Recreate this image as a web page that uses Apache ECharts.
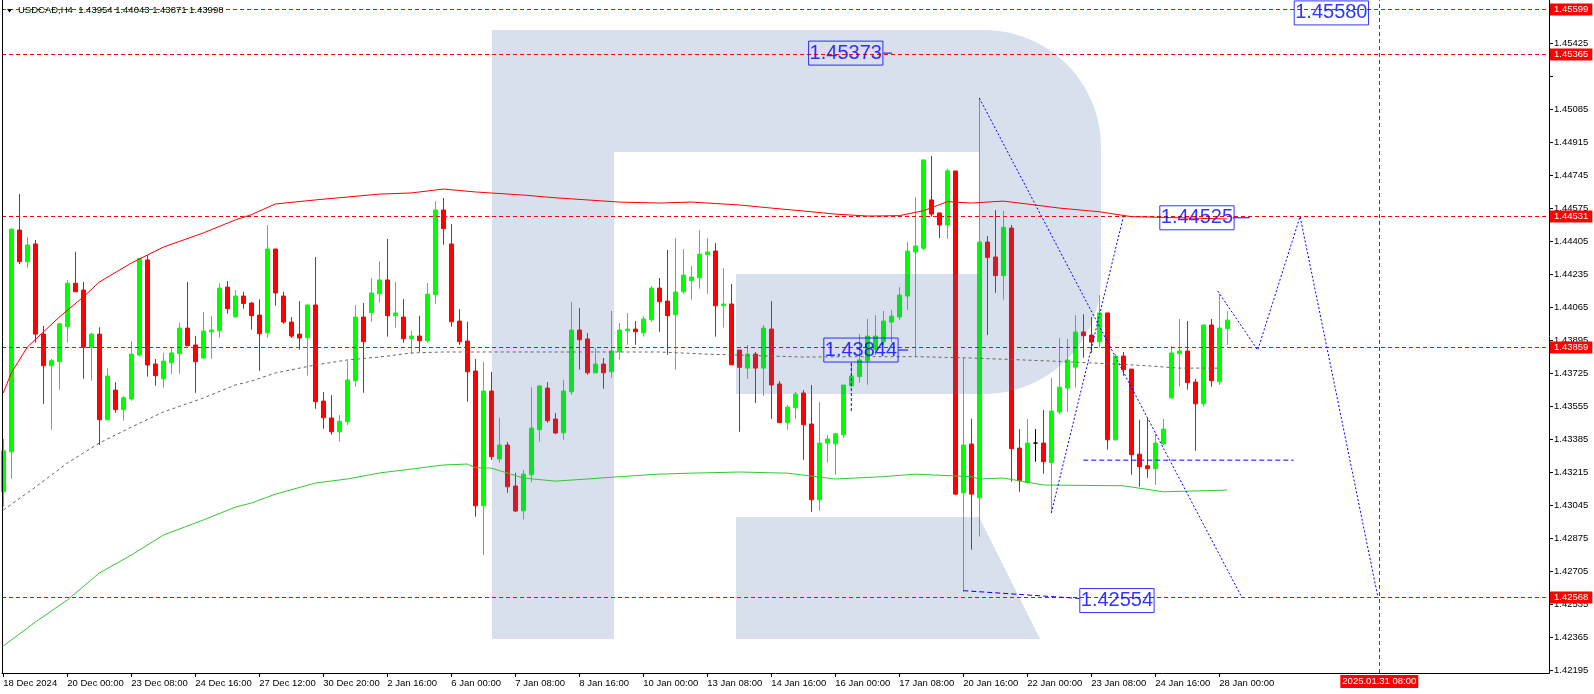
<!DOCTYPE html>
<html><head><meta charset="utf-8">
<script src="https://cdn.jsdelivr.net/npm/echarts@6/dist/echarts.min.js"></script>
<style>html,body{margin:0;padding:0;background:#fff}#c{width:1594px;height:694px}</style>
</head><body><div id="c"></div>
<script>
const FONT = 'Liberation Sans';
// ---- data: H4 candles, index 0 = 18 Dec 2024 16:00 ----
const opens = [1.43114,1.43320,1.44462,1.44299,1.44390,1.43926,1.43763,1.43784,1.43964,1.44188,1.44153,1.43858,1.43926,1.43485,1.43638,1.43537,1.43592,1.43818,1.44308,1.43772,1.43696,1.43779,1.43825,1.43957,1.43870,1.43803,1.43938,1.43943,1.44168,1.44015,1.44122,1.44086,1.44024,1.43933,1.44364,1.44122,1.43988,1.43926,1.43907,1.44076,1.43581,1.43494,1.43423,1.43475,1.43686,1.44014,1.44036,1.44134,1.44205,1.44021,1.44014,1.43902,1.43916,1.43892,1.44129,1.44565,1.44390,1.43993,1.43890,1.43736,1.43042,1.43633,1.43283,1.43355,1.43144,1.43016,1.43202,1.43434,1.43648,1.43489,1.43418,1.43629,1.43947,1.43901,1.43727,1.43772,1.43732,1.43835,1.43943,1.43952,1.43933,1.44000,1.44163,1.44096,1.44026,1.44144,1.44201,1.44216,1.44335,1.44354,1.44072,1.44081,1.43844,1.43751,1.43823,1.43751,1.43952,1.43669,1.43470,1.43547,1.43623,1.43463,1.43073,1.43365,1.43361,1.43408,1.43660,1.43707,1.43789,1.43847,1.43887,1.43988,1.44014,1.44122,1.44349,1.44368,1.44617,1.44550,1.44488,1.44766,1.43109,1.43360,1.43083,1.44400,1.44323,1.44227,1.44472,1.43339,1.43161,1.43365,1.43365,1.43264,1.43525,1.43648,1.43756,1.43937,1.43921,1.43887,1.44035,1.43382,1.43813,1.43746,1.43308,1.43248,1.43233,1.43361,1.43598,1.43825,1.43839,1.43679,1.43567,1.43973,1.43681,1.43954];
const highs = [1.43386,1.44467,1.44647,1.44426,1.44411,1.43968,1.43798,1.43985,1.44205,1.44350,1.44194,1.43933,1.43961,1.43751,1.43679,1.43607,1.43890,1.44316,1.44333,1.43798,1.43830,1.43858,1.43985,1.44194,1.43916,1.44040,1.44019,1.44188,1.44199,1.44153,1.44143,1.44091,1.44105,1.44488,1.44364,1.44143,1.44014,1.44096,1.44076,1.44323,1.43628,1.43612,1.43509,1.43789,1.44076,1.44086,1.44215,1.44302,1.44416,1.44194,1.44107,1.43942,1.44021,1.44189,1.44611,1.44627,1.44493,1.44055,1.43990,1.43798,1.43784,1.43731,1.43495,1.43370,1.43212,1.43226,1.43653,1.43664,1.43679,1.43520,1.43690,1.44091,1.44060,1.43932,1.43854,1.43803,1.44045,1.43983,1.44035,1.43993,1.44019,1.44174,1.44215,1.44359,1.44421,1.44364,1.44277,1.44462,1.44421,1.44395,1.44266,1.44184,1.43844,1.43870,1.43834,1.43973,1.44096,1.43684,1.43561,1.43628,1.43638,1.43664,1.43576,1.43406,1.43418,1.43664,1.43777,1.43926,1.44004,1.44024,1.44045,1.44050,1.44168,1.44400,1.44632,1.44823,1.44843,1.44550,1.44778,1.44766,1.43803,1.43490,1.45142,1.44431,1.44565,1.44560,1.44488,1.43437,1.43489,1.43437,1.43535,1.43700,1.43906,1.43901,1.44024,1.44029,1.44014,1.44127,1.44035,1.43823,1.43834,1.43746,1.43485,1.43495,1.43413,1.43490,1.43865,1.44004,1.43993,1.43695,1.43973,1.44004,1.44132,1.44043];
const lows = [1.43037,1.43180,1.44287,1.44268,1.43882,1.43567,1.43434,1.43640,1.43882,1.44144,1.43696,1.43686,1.43355,1.43485,1.43521,1.43480,1.43583,1.43810,1.43707,1.43660,1.43650,1.43722,1.43722,1.43866,1.43624,1.43798,1.43799,1.43907,1.44031,1.44010,1.44057,1.43949,1.43737,1.43907,1.44072,1.43979,1.43906,1.43846,1.43712,1.43542,1.43439,1.43408,1.43372,1.43459,1.43655,1.43624,1.43990,1.44088,1.43913,1.43959,1.43882,1.43825,1.43835,1.43882,1.44082,1.44386,1.43964,1.43871,1.43578,1.42986,1.42788,1.43278,1.43264,1.43109,1.43010,1.42972,1.43163,1.43372,1.43470,1.43411,1.43382,1.43614,1.43743,1.43717,1.43722,1.43645,1.43701,1.43794,1.43871,1.43871,1.43913,1.43990,1.43938,1.43820,1.43743,1.44134,1.44103,1.44160,1.44134,1.43913,1.43959,1.43768,1.43423,1.43695,1.43571,1.43607,1.43489,1.43468,1.43434,1.43489,1.43279,1.43011,1.43016,1.43264,1.43202,1.43392,1.43653,1.43676,1.43665,1.43818,1.43870,1.43885,1.43999,1.44050,1.43810,1.44359,1.44531,1.44421,1.44416,1.43097,1.42599,1.42816,1.42883,1.43921,1.44139,1.44103,1.43166,1.43114,1.43156,1.43269,1.43207,1.43011,1.43514,1.43525,1.43650,1.43804,1.43830,1.43856,1.43331,1.43377,1.43712,1.43202,1.43140,1.43186,1.43150,1.43356,1.43593,1.43655,1.43640,1.43325,1.43552,1.43655,1.43665,1.43871];
const closes = [1.43325,1.44467,1.44299,1.44385,1.43926,1.43763,1.43789,1.43979,1.44188,1.44144,1.43858,1.43926,1.43485,1.43710,1.43537,1.43598,1.43823,1.44316,1.43767,1.43712,1.43787,1.43829,1.43957,1.43866,1.43784,1.43942,1.43947,1.44163,1.44057,1.44122,1.44084,1.44021,1.43928,1.44364,1.44138,1.43988,1.43916,1.43906,1.44076,1.43578,1.43495,1.43423,1.43477,1.43690,1.44014,1.43887,1.44138,1.44205,1.44021,1.44035,1.43902,1.43916,1.43892,1.44132,1.44565,1.44469,1.43990,1.43887,1.43732,1.43042,1.43633,1.43295,1.43355,1.43140,1.43015,1.43205,1.43442,1.43659,1.43480,1.43417,1.43633,1.43947,1.43897,1.43727,1.43772,1.43727,1.43839,1.43947,1.43952,1.43938,1.44004,1.44163,1.44093,1.44021,1.44143,1.44230,1.44220,1.44338,1.44349,1.44072,1.44081,1.43768,1.43755,1.43823,1.43751,1.43957,1.43664,1.43470,1.43550,1.43617,1.43459,1.43073,1.43365,1.43386,1.43413,1.43664,1.43710,1.43793,1.43916,1.43916,1.43993,1.44019,1.44127,1.44354,1.44380,1.44823,1.44544,1.44488,1.44767,1.43102,1.43355,1.43102,1.44400,1.44321,1.44227,1.44476,1.43336,1.43171,1.43365,1.43365,1.43269,1.43530,1.43653,1.43793,1.43937,1.43918,1.43885,1.44035,1.43382,1.43813,1.43743,1.43305,1.43243,1.43233,1.43365,1.43437,1.43829,1.43839,1.43676,1.43567,1.43973,1.43686,1.43957,1.43998];

// moving averages: [bar index, price]
const maRed = [[0,1.43623],[1,1.43726],[3,1.43859],[5,1.43937],[7,1.44014],[10,1.44117],[12,1.44194],[16,1.44292],[20,1.44374],[25,1.44447],[29,1.44514],[31,1.44541],[34,1.44596],[39,1.44617],[43,1.44632],[47,1.44647],[51,1.44653],[55,1.44673],[59,1.44658],[65,1.44642],[69,1.44628],[73,1.44617],[77,1.44606],[82,1.44601],[86,1.44606],[92,1.44591],[96,1.44575],[100,1.44560],[104,1.44544],[108,1.44534],[112,1.44536],[115,1.44561],[118,1.44608],[121,1.44601],[125,1.44611],[128,1.44596],[132,1.44575],[137,1.44556],[141,1.44531],[148,1.44524],[153,1.44519]];
const maGray = [[0,1.43020],[4,1.43138],[8,1.43262],[12,1.43365],[16,1.43447],[20,1.43525],[25,1.43597],[29,1.43664],[31,1.43684],[34,1.43726],[39,1.43767],[43,1.43793],[47,1.43808],[51,1.43829],[55,1.43834],[61,1.43834],[71,1.43834],[82,1.43834],[88,1.43823],[92,1.43818],[100,1.43808],[108,1.43810],[114,1.43810],[121,1.43803],[130,1.43789],[139,1.43772],[143,1.43763],[147,1.43751],[152,1.43751]];
const maGreen = [[0,1.42320],[4,1.42443],[8,1.42557],[12,1.42696],[16,1.42788],[20,1.42891],[25,1.42969],[29,1.43035],[31,1.43056],[34,1.43102],[39,1.43159],[43,1.43180],[47,1.43211],[51,1.43231],[55,1.43252],[58,1.43257],[59,1.43238],[61,1.43236],[65,1.43185],[69,1.43169],[73,1.43180],[77,1.43192],[82,1.43205],[86,1.43210],[92,1.43216],[98,1.43210],[104,1.43180],[110,1.43192],[114,1.43205],[121,1.43192],[122,1.43180],[125,1.43185],[130,1.43149],[140,1.43145],[145,1.43114],[153,1.43123]];

// horizontal levels (red), current price, vertical time marker
const redLevels = [1.45599, 1.45365, 1.44531, 1.43859, 1.42568];
const lastPrice = 1.43998;
const vLineIdx = 172;
const vLineText = '2025.01.31 08:00';

// blue forecast drawings: [bar index, price]
const blueDotted1 = [[122,1.45142],[154.8,1.42572]];
const blueDotted2 = [[131,1.43005],[140,1.44529]];
const blueForecast = [[151.8,1.44148],[156.8,1.43844],[162.1,1.44532],[171.85,1.42567]];
const blueDashLow = [[120,1.42605],[134.5,1.42565]];
const blueDashMid = [[135,1.43277],[161.3,1.43277]];
const blueVert = [[106,1.43777],[106,1.43520]];
const blueStubs = [[[110,1.45373],[111.1,1.45373]],[[111.9,1.43844],[113.1,1.43844]],[[153.7,1.44525],[155.8,1.44525]]];
// boxed price texts: bar index of left edge, price
const boxIdx = [100.6, 102.5, 144.5, 161.3, 134.5];
const boxPrice = [1.45373, 1.43844, 1.44525, 1.45580, 1.42554];

// axes
const xMin = -0.1625, xMax = 193.2125;
const xTickIdx = [0,8,16,24,32,40,48,56,64,72,80,88,96,104,112,120,128,136,144,152];
const xTickText = ['18 Dec 2024','20 Dec 00:00','23 Dec 08:00','24 Dec 16:00','27 Dec 12:00','30 Dec 20:00','2 Jan 16:00','6 Jan 00:00','7 Jan 08:00','8 Jan 16:00','10 Jan 00:00','13 Jan 08:00','14 Jan 16:00','16 Jan 00:00','17 Jan 08:00','20 Jan 16:00','22 Jan 00:00','23 Jan 08:00','24 Jan 16:00','28 Jan 00:00'];
const yTicks = [1.42195,1.42365,1.42535,1.42705,1.42875,1.43045,1.43215,1.43385,1.43555,1.43725,1.43895,1.44065,1.44235,1.44405,1.44575,1.44745,1.44915,1.45085,1.45255,1.45425];
const yLabels = [1.42195,1.42365,1.42535,1.42705,1.42875,1.43045,1.43215,1.43385,1.43555,1.43725,1.43895,1.44065,1.44235,1.44405,1.44575,1.44745,1.44915,1.45085,1.45425];
const titleText = 'USDCAD,H4  1.43954 1.44043 1.43871 1.43998';

const candleData = opens.map((o, i) => [i, o, closes[i], lows[i], highs[i]]);
const xLabelMap = {};
xTickIdx.forEach((v, i) => { xLabelMap[v] = xTickText[i]; });

// watermark "R" outline (decoration, pixel space)
function arcPts(cx, cy, r, a0, a1, n) {
  const pts = [];
  for (let k = 0; k <= n; k++) {
    const a = a0 + (a1 - a0) * k / n;
    pts.push([cx + r * Math.cos(a), cy + r * Math.sin(a)]);
  }
  return pts;
}
const wmOuter = [[492,30],[984,30]]
  .concat(arcPts(984,147,117,-Math.PI/2,0,24))
  .concat(arcPts(984,277,117,0,Math.PI/2,24))
  .concat([[736,394],[736,274],[979,274],[979,152],[614,152],[614,639],[492,639]]);
const wmLeg = [[736,517],[979,517],[1040,639],[736,639]];

function lineSeries(data, color, type, z) {
  return { type: 'line', data: data, showSymbol: false, silent: true, z: z || 4,
    lineStyle: { color: color, width: 1, type: type || 'solid' }, animation: false };
}
function tagLabel(text, bg) {
  return { show: true, distance: 1, formatter: () => text,
    backgroundColor: bg, color: '#ffffff', fontFamily: FONT, fontSize: 9.5,
    lineHeight: 11, padding: [0, 4, 0, 4] };
}

const chart = echarts.init(document.getElementById('c'), null, { renderer: 'canvas' });
const blueLabel = {
  show: true, position: 'right', distance: 0,
  formatter: p => p.value[1].toFixed(5),
  color: '#0000ff', fontFamily: FONT, fontSize: 20, lineHeight: 22,
  borderColor: '#0000ff', borderWidth: 1, padding: [2, 1, 0, 1]
};

// red horizontal levels: crisp dashed line + tag on the price scale
const levelSeries = {
  type: 'custom', z: 6, silent: true, clip: false,
  data: redLevels.map(v => [v]),
  encode: { y: 0 },
  renderItem: (params, api) => {
    const v = api.value(0);
    const y = Math.floor(api.coord([xMin, v])[1]) + 0.5;
    const cs = params.coordSys;
    return { type: 'group', children: [
      { type: 'line', shape: { x1: cs.x, y1: y, x2: cs.x + cs.width, y2: y },
        style: { stroke: '#ff0000', lineWidth: 1, lineDash: [4, 3] } },
      { type: 'text', x: cs.x + cs.width + 1, y: y,
        style: { text: v.toFixed(5), fill: '#ffffff', backgroundColor: '#ff0000',
          padding: [1, 4, 0, 4], font: '9.5px "Liberation Sans"', lineHeight: 11,
          align: 'left', verticalAlign: 'middle' } }
    ] };
  }
};

const option = {
  animation: false,
  backgroundColor: '#ffffff',
  grid: { left: 2, right: 45, top: 0, bottom: 21, containLabel: false },
  xAxis: {
    type: 'value', min: xMin, max: xMax,
    splitLine: { show: false },
    axisLine: { show: true, onZero: false, lineStyle: { color: '#000', width: 1 } },
    axisTick: { show: true, length: 4, customValues: xTickIdx, lineStyle: { color: '#000' } },
    axisLabel: { customValues: xTickIdx, formatter: v => xLabelMap[v] || '', align: 'left',
      margin: 5, fontFamily: FONT, fontSize: 9.5, color: '#000' }
  },
  yAxis: {
    type: 'value', position: 'right', min: 1.42181, max: 1.456465, scale: true,
    splitLine: { show: false },
    axisLine: { show: true, onZero: false, lineStyle: { color: '#000', width: 1 } },
    axisTick: { show: true, length: 4, customValues: yTicks, lineStyle: { color: '#000' } },
    axisLabel: { customValues: yLabels, formatter: v => v.toFixed(5), margin: 5,
      fontFamily: FONT, fontSize: 9.5, color: '#000' }
  },
  graphic: [
    { type: 'polygon', z: 3, silent: true, shape: { points: wmOuter },
      style: { fill: 'rgba(72,116,170,0.22)' } },
    { type: 'polygon', z: 3, silent: true, shape: { points: wmLeg },
      style: { fill: 'rgba(72,116,170,0.22)' } },
    { type: 'line', z: 10, silent: true, shape: { x1: 2.5, y1: 0, x2: 2.5, y2: 673 },
      style: { stroke: '#000', lineWidth: 1 } },
    { type: 'polygon', z: 10, silent: true, shape: { points: [[7,9],[12,9],[9.5,12.5]] },
      style: { fill: '#000' } },
    { type: 'text', z: 10, silent: true, left: 18, top: 5,
      style: { text: titleText, font: '9.5px "Liberation Sans"', fill: '#000' } }
  ],
  series: [
    {
      type: 'candlestick', data: candleData, encode: { x: 0, y: [1, 2, 3, 4] },
      barWidth: 4, z: 2, silent: true,
      itemStyle: { color: '#00ff00', color0: '#ff0000', borderColor: '#00ff00', borderColor0: '#ff0000',
        borderColorDoji: '#000000', borderWidth: 1 },
      markLine: {
        silent: true, symbol: 'none', z: 6, animation: false,
        data: [
          { yAxis: lastPrice, lineStyle: { opacity: 0, width: 0 },
            label: Object.assign(tagLabel(lastPrice.toFixed(5), '#000000'), { position: 'end' }) },
          { xAxis: vLineIdx, lineStyle: { color: '#ff0000', type: [4, 3], width: 1 },
            label: { show: true, position: 'start', distance: 2, formatter: () => vLineText,
              backgroundColor: '#ff0000', color: '#ffffff', fontFamily: FONT, fontSize: 9.5,
              lineHeight: 13, padding: [0, 2, 0, 2] } }
        ]
      }
    },
    lineSeries(maGreen, '#32c832'),
    lineSeries(maGray, '#666666', [3, 3]),
    lineSeries(maRed, '#ff0000'),
    lineSeries(blueDotted1, '#0000ff', [2, 2], 7),
    lineSeries(blueDotted2, '#0000ff', [2, 2], 7),
    lineSeries(blueForecast, '#0000ff', [2, 2], 7),
    lineSeries(blueDashLow, '#0000ff', [5, 3], 7),
    lineSeries(blueDashMid, '#0000ff', [5, 3], 7),
    lineSeries(blueVert, '#0000ff', [3, 2], 7),
    levelSeries
  ].concat(blueStubs.map(s => lineSeries(s, '#0000ff', 'solid', 7))).concat([
    { type: 'scatter', z: 8, silent: true, symbolSize: 1, itemStyle: { color: 'rgba(0,0,0,0)' },
      data: boxIdx.map((x, i) => [x, boxPrice[i]]), label: blueLabel }
  ])
};
chart.setOption(option);
</script>
</body></html>
